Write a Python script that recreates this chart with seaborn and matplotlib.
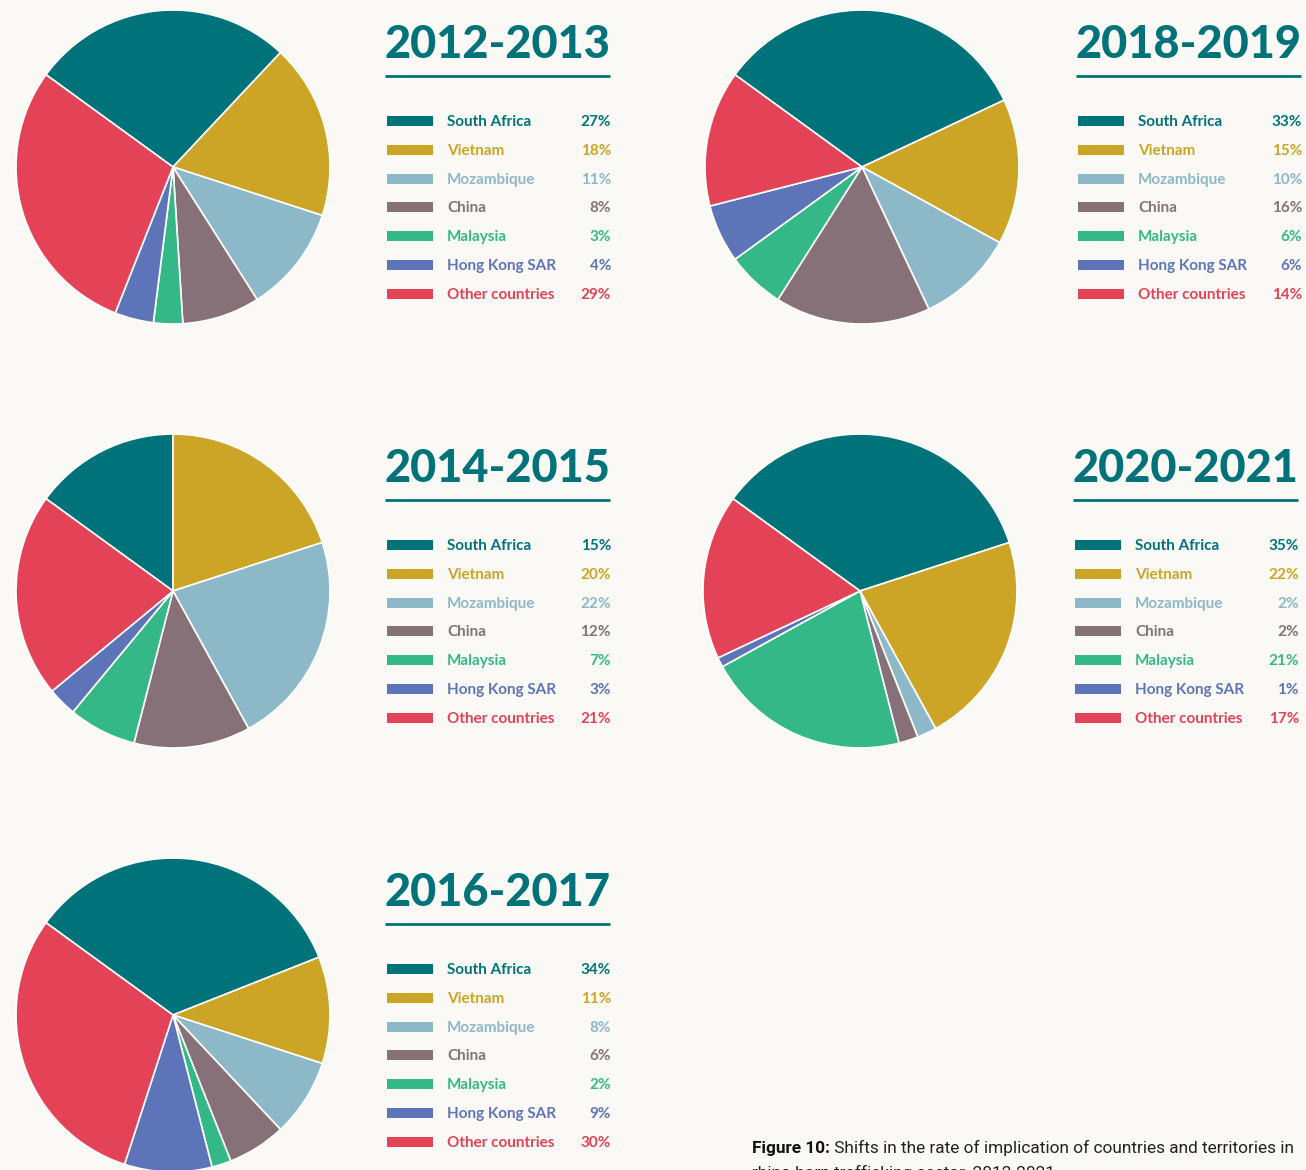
import matplotlib
matplotlib.use("Agg")
import matplotlib.pyplot as plt
from matplotlib.patches import Rectangle
import seaborn as sns

# ---------------- data ----------------
periods = ["2012-2013", "2014-2015", "2016-2017", "2018-2019", "2020-2021"]
countries = ["South Africa", "Vietnam", "Mozambique", "China", "Malaysia",
             "Hong Kong SAR", "Other countries"]
share_2012_2013 = [27, 18, 11, 8, 3, 4, 29]
share_2014_2015 = [15, 20, 22, 12, 7, 3, 21]
share_2016_2017 = [34, 11, 8, 6, 2, 9, 30]
share_2018_2019 = [33, 15, 10, 16, 6, 6, 14]
share_2020_2021 = [35, 22, 2, 2, 21, 1, 17]
shares = [share_2012_2013, share_2014_2015, share_2016_2017,
          share_2018_2019, share_2020_2021]
colors = ["#00737A", "#CDA526", "#8CB8C7", "#857177", "#34B888",
          "#5D74B8", "#E34257"]
caption_bold = "Figure 10:"
caption_rest = " Shifts in the rate of implication of countries and territories in"
caption_line2 = "rhino horn trafficking sector, 2012-2021"

# ---------------- style ----------------
sns.set_theme(style="white")
BG = "#FAF9F5"
TEAL = "#00737A"
plt.rcParams["font.family"] = ["Lato", "DejaVu Sans"]

W, H = 1306, 1170
fig = plt.figure(figsize=(W / 100, H / 100), dpi=100, facecolor=BG)

# overlay axes in pixel coordinates for titles / legends / caption
ov = fig.add_axes([0, 0, 1, 1])
ov.set_xlim(0, W)
ov.set_ylim(H, 0)
ov.axis("off")
ov.set_facecolor("none")

R = 157
layout = [  # (pie centre x, pie centre y, block left x)
    (173, 167, 385),
    (173, 591, 385),
    (173, 1015, 385),
    (862, 167, 1076),
    (860, 591, 1073),
]
BLOCK_W = 225
ROW0 = 122 - 167  # first legend row offset from pie centre
ROW_STEP = 28.8

for period, vals, (cx, cy, bx) in zip(periods, shares, layout):
    ax = fig.add_axes([(cx - R) / W, 1 - (cy + R) / H, 2 * R / W, 2 * R / H])
    ax.pie(vals, colors=colors, startangle=144, counterclock=False,
           wedgeprops=dict(edgecolor="white", linewidth=1.2))
    ax.set_xlim(-1, 1)
    ax.set_ylim(-1, 1)
    ax.set_aspect("equal")
    ax.axis("off")

    # title and underline
    ov.text(bx + BLOCK_W / 2, cy - 109, period, ha="center", va="baseline",
            fontsize=32.5, fontweight="black", color=TEAL)
    ov.plot([bx, bx + BLOCK_W], [cy - 91, cy - 91], color=TEAL, lw=2,
            solid_capstyle="butt")

    # legend rows
    for i, (name, v, c) in enumerate(zip(countries, vals, colors)):
        y = cy + ROW0 + i * ROW_STEP
        ov.add_patch(Rectangle((bx + 2, y - 6), 46, 10, color=c, lw=0))
        ov.text(bx + 62, y, name, ha="left", va="center", fontsize=11,
                fontweight="bold", color=c)
        ov.text(bx + BLOCK_W + 1, y, f"{v}%", ha="right", va="center",
                fontsize=11, fontweight="bold", color=c)

# caption
CAP_FONT = ["Roboto", "DejaVu Sans"]
t1 = ov.text(752, 1153, caption_bold, ha="left", va="baseline", fontsize=12.4,
             fontweight="bold", color="#111111", family=CAP_FONT)
ov.annotate(caption_rest, xy=(1, 0), xycoords=t1, ha="left", va="bottom",
            fontsize=12.4, color="#222222", family=CAP_FONT)
ov.text(752, 1178, caption_line2, ha="left", va="baseline", fontsize=12.4,
        color="#222222", family=CAP_FONT, clip_on=False)

fig.savefig("out.png", dpi=100, facecolor=BG)
